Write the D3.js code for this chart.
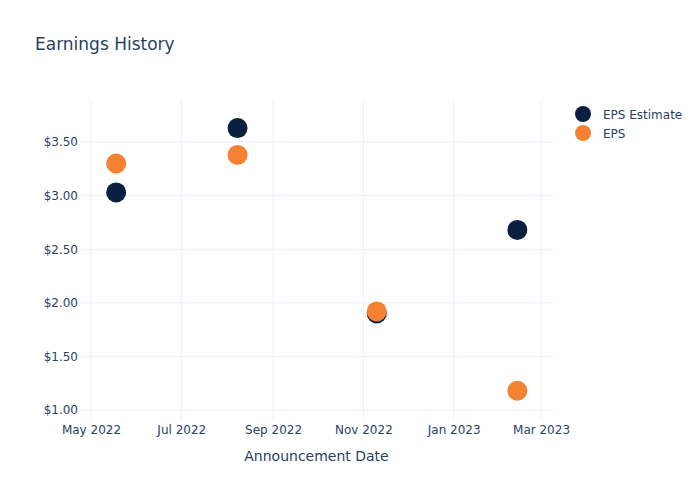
<!DOCTYPE html>
<html><head><meta charset="utf-8">
<script src="https://cdn.jsdelivr.net/npm/d3@7"></script>
<style>body{margin:0;background:#fff;} text{font-family:"DejaVu Sans",Verdana,sans-serif;}</style>
</head><body>
<svg id="c" width="700" height="500"></svg>
<script>
const dates = ["2022-05-18", "2022-08-08", "2022-11-10", "2023-02-13"];
const epsEstimate = [3.03, 3.63, 1.90, 2.68];
const eps = [3.30, 3.38, 1.92, 1.18];
const yTicks = [1.0, 1.5, 2.0, 2.5, 3.0, 3.5];
const xTicks = ["2022-05-01", "2022-07-01", "2022-09-01", "2022-11-01", "2023-01-01", "2023-03-01"];
const seriesNames = ["EPS Estimate", "EPS"];
const colors = ["#0b1f41", "#f58233"];

const parse = d3.utcParse("%Y-%m-%d");
const svg = d3.select("#c");
const L = 80, R = 553, T = 100, B = 420;
const x = d3.scaleUtc().domain([new Date(Date.UTC(2022,3,23,14)), new Date(Date.UTC(2023,2,9,2))]).range([L, R]);
const y = d3.scaleLinear().domain([0.907, 3.892]).range([B, T]);
const txt = "#2a3f5f", grid = "#ebf0f8";
const ff = '"DejaVu Sans",Verdana,sans-serif';

svg.append("text").attr("x", 35).attr("y", 50).attr("font-size", 17).attr("fill", txt).text("Earnings History");

const g = svg.append("g");
g.selectAll("line.v").data(xTicks.map(parse)).enter().append("line")
  .attr("x1", d => x(d)).attr("x2", d => x(d)).attr("y1", T).attr("y2", B)
  .attr("stroke", grid).attr("stroke-width", 1);
g.selectAll("line.h").data(yTicks).enter().append("line")
  .attr("x1", L).attr("x2", R).attr("y1", d => y(d)).attr("y2", d => y(d))
  .attr("stroke", grid).attr("stroke-width", 1);

const xa = svg.append("g").attr("transform", `translate(0,${B})`)
  .call(d3.axisBottom(x).tickValues(xTicks.map(parse)).tickFormat(d3.utcFormat("%b %Y")).tickSize(0).tickPadding(5));
xa.select(".domain").remove();
xa.selectAll("text").attr("font-size", 12).attr("fill", txt).style("font-family", ff);

const ya = svg.append("g").attr("transform", `translate(${L},0)`)
  .call(d3.axisLeft(y).tickValues(yTicks).tickFormat(d => "$" + d3.format(".2f")(d)).tickSize(0).tickPadding(2));
ya.select(".domain").remove();
ya.selectAll("text").attr("font-size", 12).attr("fill", txt).style("font-family", ff);

svg.append("text").attr("x", (L + R) / 2).attr("y", 461).attr("text-anchor", "middle")
  .attr("font-size", 14).attr("fill", txt).text("Announcement Date");

[epsEstimate, eps].forEach((vals, si) => {
  svg.append("g").selectAll("circle").data(vals).enter().append("circle")
    .attr("cx", (d, i) => x(parse(dates[i]))).attr("cy", d => y(d)).attr("r", 10)
    .attr("fill", colors[si]);
});

const lg = svg.append("g");
seriesNames.forEach((n, i) => {
  lg.append("circle").attr("cx", 583).attr("cy", 114 + i * 19).attr("r", 8).attr("fill", colors[i]);
  lg.append("text").attr("x", 603).attr("y", 118.5 + i * 19).attr("font-size", 12).attr("fill", txt).text(n);
});
</script>
</body></html>
